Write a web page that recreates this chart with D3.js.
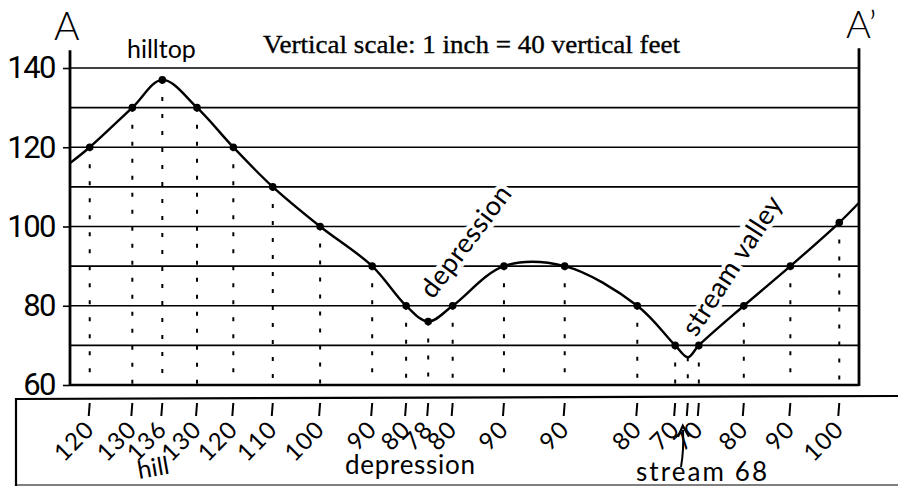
<!DOCTYPE html>
<html>
<head>
<meta charset="utf-8">
<script src="https://cdn.jsdelivr.net/npm/d3@7"></script>
<style>
  html, body { margin: 0; padding: 0; background: #fff; }
  svg { display: block; }
  .hand { font-family: Lato, "Open Sans", sans-serif; fill: #000; }
</style>
</head>
<body>
<svg id="chart" width="898" height="486"></svg>
<script>
// Topographic profile A–A'. Distance is % of the profile width.
const crossDist = [2.5, 7.9, 11.7, 16.1, 20.7, 25.7, 31.7, 38.3, 42.6, 45.4, 48.5, 55.0, 62.7, 71.9, 76.7, 78.3, 79.7, 85.4, 91.3, 97.5];
const crossElev = [120, 130, 137, 130, 120, 110, 100, 90, 80, 76, 80, 90, 90, 80, 70, 67, 70, 80, 90, 101];
const crossLabel = ["120", "130", "136", "130", "120", "110", "100", "90", "80", "78", "80", "90", "90", "80", "70", "", "70", "80", "90", "100"];
const crossDot = [1, 1, 1, 1, 1, 1, 1, 1, 1, 1, 1, 1, 1, 1, 1, 0, 1, 1, 1, 1];
const endDist = [0, 100];
const endElev = [116, 106];
const yTickValues = [60, 80, 100, 120, 140];
const gridValues = [60, 70, 80, 90, 100, 110, 120, 130, 140];

const svg = d3.select("#chart");
svg.append("rect").attr("width", 898).attr("height", 486).attr("fill", "#fff");

const x = d3.scaleLinear().domain([0, 100]).range([70, 859]);
const y = d3.scaleLinear().domain([60, 140]).range([385, 68]);

const cross = crossDist.map((d, i) => ({ d, e: crossElev[i], label: crossLabel[i], dot: !!crossDot[i] }));
const profile = [{ d: endDist[0], e: endElev[0] }, ...cross, { d: endDist[1], e: endElev[1] }];

// grid
svg.append("g")
  .selectAll("line")
  .data(gridValues)
  .join("line")
  .attr("x1", x(0)).attr("x2", x(100))
  .attr("y1", (v) => y(v)).attr("y2", (v) => y(v))
  .attr("stroke", "#000")
  .attr("stroke-width", (v) => (v === 60 ? 2.4 : 1.6));

// dotted drop lines
svg.append("g")
  .selectAll("line")
  .data(cross)
  .join("line")
  .attr("x1", (p) => x(p.d)).attr("x2", (p) => x(p.d))
  .attr("y1", (p) => y(p.e)).attr("y2", y(60))
  .attr("stroke", "#000")
  .attr("stroke-width", 2)
  .attr("stroke-dasharray", "4,13");

// y axis
const ax = svg.append("g")
  .attr("transform", `translate(${x(0)},0)`)
  .call(d3.axisLeft(y).tickValues(yTickValues).tickSize(7).tickPadding(8).tickFormat(d3.format("d")));
ax.select(".domain").remove();
ax.selectAll(".tick line").attr("stroke-width", 1.6);
ax.selectAll(".tick text")
  .attr("font-family", "Roboto, sans-serif")
  .attr("font-size", 31)
  .attr("letter-spacing", -1.5)
  .attr("fill", "#000");

svg.append("line")
  .attr("x1", x(0)).attr("x2", x(0))
  .attr("y1", y(144.5)).attr("y2", y(60) + 1)
  .attr("stroke", "#000").attr("stroke-width", 2.8);
svg.append("line")
  .attr("x1", x(100)).attr("x2", x(100))
  .attr("y1", y(145)).attr("y2", y(60) + 1)
  .attr("stroke", "#000").attr("stroke-width", 2.8);

// profile curve
svg.append("path")
  .datum(profile)
  .attr("fill", "none")
  .attr("stroke", "#000")
  .attr("stroke-width", 2.4)
  .attr("stroke-linejoin", "round")
  .attr("d", d3.line().x((p) => x(p.d)).y((p) => y(p.e)).curve(d3.curveCatmullRom.alpha(0.5)));

svg.append("g")
  .selectAll("circle")
  .data(cross.filter((p) => p.dot))
  .join("circle")
  .attr("cx", (p) => x(p.d))
  .attr("cy", (p) => y(p.e))
  .attr("r", 3.8)
  .attr("fill", "#000");

// slope labels with white knock-out
const slope = (txt, px, py, ang, size) =>
  svg.append("text")
    .attr("class", "hand")
    .attr("transform", `translate(${px},${py}) rotate(${ang})`)
    .attr("font-size", size)
    .attr("stroke", "#fff").attr("stroke-width", 8).attr("paint-order", "stroke")
    .attr("letter-spacing", 0.5)
    .text(txt);
slope("depression", 433, 300, -53, 27);
slope("stream valley", 696, 338, -57, 27);

// bottom strip
svg.append("path")
  .attr("d", "M16,486 L16,399 L898,396")
  .attr("fill", "none").attr("stroke", "#000").attr("stroke-width", 2.2);
svg.append("line")
  .attr("x1", 16).attr("x2", 898).attr("y1", 485).attr("y2", 485)
  .attr("stroke", "#000").attr("stroke-width", 1.2);

svg.append("g")
  .selectAll("line")
  .data(cross)
  .join("line")
  .attr("x1", (p) => x(p.d)).attr("x2", (p) => x(p.d) - 1)
  .attr("y1", 403).attr("y2", 416)
  .attr("stroke", "#000").attr("stroke-width", 2);

svg.append("g")
  .selectAll("text")
  .data(cross.filter((p) => p.label))
  .join("text")
  .attr("class", "hand")
  .attr("text-anchor", "end")
  .attr("font-size", 24)
  .attr("letter-spacing", 1)
  .attr("transform", (p) => `translate(${x(p.d) + 6},431) rotate(-45)`)
  .text((p) => p.label);

svg.append("text").attr("class", "hand").attr("font-size", 25)
  .attr("transform", "translate(139,479) rotate(-10)").text("hill");
svg.append("text").attr("class", "hand").attr("font-size", 26)
  .attr("x", 345).attr("y", 474).attr("textLength", 130).text("depression");
svg.append("text").attr("class", "hand").attr("font-size", 26)
  .attr("x", 636).attr("y", 481).attr("textLength", 131).text("stream 68");

// arrow to the stream
svg.append("defs").append("marker")
  .attr("id", "head").attr("viewBox", "0 0 10 10")
  .attr("refX", 5).attr("refY", 5)
  .attr("markerWidth", 7).attr("markerHeight", 7)
  .attr("orient", "auto")
  .append("path").attr("d", "M0,1 L8,5 L0,9").attr("fill", "none").attr("stroke", "#000").attr("stroke-width", 1.6);
svg.append("path")
  .attr("d", "M681,467 Q684,450 683,430")
  .attr("fill", "none").attr("stroke", "#000").attr("stroke-width", 2)
  .attr("marker-end", "url(#head)");

// top texts
svg.append("text").attr("class", "hand").attr("font-size", 39).attr("font-weight", 300)
  .attr("x", 54).attr("y", 40).text("A");
svg.append("text").attr("class", "hand").attr("font-size", 38).attr("font-weight", 300)
  .attr("x", 846).attr("y", 38).text("A’");
svg.append("text").attr("class", "hand").attr("font-size", 25)
  .attr("x", 127).attr("y", 58).text("hilltop");
svg.append("text")
  .attr("font-family", "'Liberation Serif', 'Times New Roman', serif")
  .attr("font-size", 26)
  .attr("stroke", "#000").attr("stroke-width", 0.35)
  .attr("x", 263).attr("y", 53)
  .attr("textLength", 417).attr("lengthAdjust", "spacingAndGlyphs")
  .text("Vertical scale: 1 inch = 40 vertical feet");
</script>
</body>
</html>
